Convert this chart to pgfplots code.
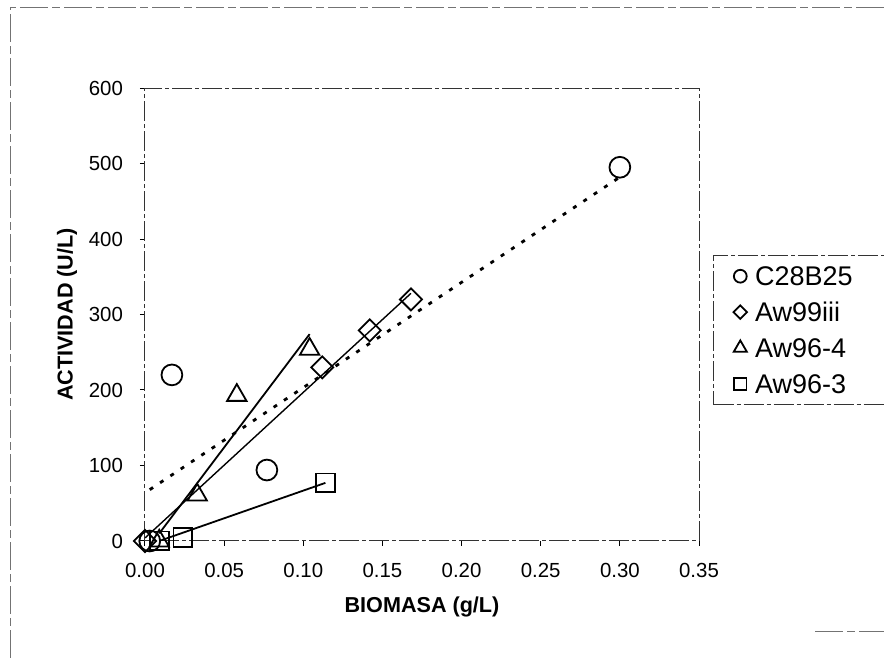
\documentclass[border=0pt]{standalone}
\usepackage{fontspec}
\setmainfont{Liberation Sans}
\usepackage{pgfplots}
\pgfplotsset{compat=1.18}
\pgfplotsset{
  legsz/.style={legend image code/.code={\draw[##1,solid,mark size=#1] plot coordinates {(0,0)};}}
}
\begin{document}
\begin{tikzpicture}[x=0.5pt,y=0.5pt]
\useasboundingbox (0,0) rectangle (884,658);
\draw[black!55, line width=0.5pt, dash pattern=on 14pt off 2pt on 4pt off 2pt] (10,0) -- (10,650) -- (884,650);
\draw[black!55, line width=0.5pt, dash pattern=on 14pt off 2pt on 4pt off 2pt] (815,26) -- (884,26);
\begin{axis}[
  at={(72.5pt,58.5pt)}, anchor=south west,
  scale only axis, width=277pt, height=226.5pt,
  xmin=0, xmax=0.35, ymin=0, ymax=600,
  xtick={0,0.05,0.1,0.15,0.2,0.25,0.3,0.35},
  ytick={0,100,200,300,400,500,600},
  tick pos=left, tick align=outside, major tick length=2.5pt,
  tick style={black, line width=0.5pt},
  axis line style={black!80, line width=0.5pt, dash pattern=on 10pt off 1.5pt on 2pt off 1.5pt},
  /pgf/number format/assume math mode=true,
  xticklabel style={/pgf/number format/fixed, /pgf/number format/fixed zerofill, /pgf/number format/precision=2, yshift=-5pt},
  every tick label/.append style={font=\fontsize{10.2}{12}\selectfont},
  yticklabel style={xshift=-5pt},
  xlabel={\textbf{BIOMASA (g/L)}},
  ylabel={\textbf{ACTIVIDAD (U/L)}},
  label style={font=\fontsize{10.8}{12}\selectfont},
  xlabel style={at={(axis description cs:0.5,-0.1457)}, anchor=center},
  ylabel style={at={(axis description cs:-0.1408,0.5)}, anchor=center},
  legend style={at={(axis description cs:1.0253,0.6313)}, anchor=north west,
    draw=black!80, line width=0.5pt, dash pattern=on 10pt off 1.5pt on 2pt off 1.5pt,
    font=\fontsize{13.5}{15}\selectfont, inner xsep=10pt, inner ysep=4.5pt,
    nodes={inner sep=1pt, text height=9.7pt, text depth=0pt},
    row sep=6.25pt, column sep=3pt},
  legend cell align=left,
]
% C28B25
\addplot[only marks, black, mark=o, mark size=5.2pt, line width=0.9pt, legsz=3.2pt]
  coordinates {(0.003,0) (0.017,220) (0.077,94) (0.300,495)};
\addlegendentry{\makebox[62pt][l]{C28B25}}
% Aw99iii
\addplot[only marks, black, mark=square, mark size=3.9pt, mark options={rotate=45}, line width=0.9pt, legsz=2.4pt]
  coordinates {(0.000,0) (0.112,230) (0.142,279) (0.168,320)};
\addlegendentry{Aw99iii}
% Aw96-4
\addplot[only marks, black, mark=triangle, mark size=5.6pt, line width=0.9pt, legsz=3.8pt]
  coordinates {(0.009,0) (0.033,61) (0.058,193) (0.104,254)};
\addlegendentry{Aw96-4}
% Aw96-3
\addplot[only marks, black, mark=square, mark size=4.7pt, line width=0.9pt, legsz=3.1pt]
  coordinates {(0.009,0) (0.024,5) (0.114,77)};
\addlegendentry{Aw96-3}
% trend lines
\addplot[forget plot, black, line width=1.4pt, dash pattern=on 2pt off 4.2pt]
  coordinates {(0.003,68) (0.300,482)};
\addplot[forget plot, black, line width=0.7pt]
  coordinates {(0.000,4) (0.168,328)};
\addplot[forget plot, black, line width=0.9pt]
  coordinates {(0.009,10) (0.104,274)};
\addplot[forget plot, black, line width=0.9pt]
  coordinates {(0.009,0) (0.114,77)};
\end{axis}
\end{tikzpicture}
\end{document}
